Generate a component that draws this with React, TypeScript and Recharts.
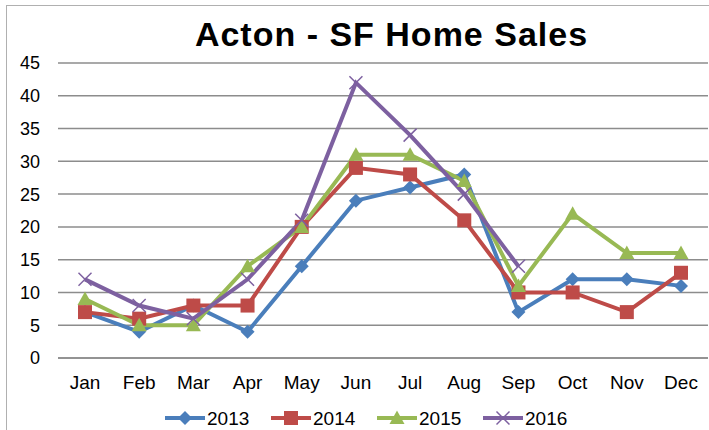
import React from "react";
import {
  LineChart,
  Line,
  XAxis,
  YAxis,
  CartesianGrid,
  Legend,
} from "recharts";

const months = ["Jan", "Feb", "Mar", "Apr", "May", "Jun", "Jul", "Aug", "Sep", "Oct", "Nov", "Dec"];
const sales2013 = [7, 4, 8, 4, 14, 24, 26, 28, 7, 12, 12, 11];
const sales2014 = [7, 6, 8, 8, 20, 29, 28, 21, 10, 10, 7, 13];
const sales2015 = [9, 5, 5, 14, 20, 31, 31, 27, 11, 22, 16, 16];
const sales2016 = [12, 8, 6, 12, 21, 42, 34, 25, 14, null, null, null];
const yTicks = [0, 5, 10, 15, 20, 25, 30, 35, 40, 45];

const data = months.map((m, i) => ({
  month: m,
  y2013: sales2013[i],
  y2014: sales2014[i],
  y2015: sales2015[i],
  y2016: sales2016[i],
}));

type Kind = "diamond" | "square" | "triangle" | "cross";

const font = "Liberation Sans, Arial, sans-serif";

const series: { key: string; name: string; color: string; kind: Kind }[] = [
  { key: "y2013", name: "2013", color: "#4A7EBB", kind: "diamond" },
  { key: "y2014", name: "2014", color: "#BE4B48", kind: "square" },
  { key: "y2015", name: "2015", color: "#98B954", kind: "triangle" },
  { key: "y2016", name: "2016", color: "#7D60A0", kind: "cross" },
];

function Marker({ kind, cx, cy, color }: { kind: Kind; cx: number; cy: number; color: string }) {
  if (cx == null || cy == null || isNaN(cx) || isNaN(cy)) return null;
  if (kind === "diamond") {
    const r = 7;
    return <polygon points={`${cx},${cy - r} ${cx + r},${cy} ${cx},${cy + r} ${cx - r},${cy}`} fill={color} />;
  }
  if (kind === "square") {
    const r = 7;
    return <rect x={cx - r} y={cy - r} width={r * 2} height={r * 2} fill={color} />;
  }
  if (kind === "triangle") {
    const r = 7.5;
    return <polygon points={`${cx},${cy - r} ${cx + r},${cy + r * 0.8} ${cx - r},${cy + r * 0.8}`} fill={color} />;
  }
  const r = 6.5;
  return (
    <g stroke={color} strokeWidth={1.5}>
      <line x1={cx - r} y1={cy - r} x2={cx + r} y2={cy + r} />
      <line x1={cx - r} y1={cy + r} x2={cx + r} y2={cy - r} />
    </g>
  );
}

function LegendContent() {
  return (
    <svg width={709} height={32} style={{ display: "block", overflow: "visible" }}>
      {series.map((s, i) => {
        const x0 = 165 + i * 106;
        return (
          <g key={s.key}>
            <line x1={x0} y1={20} x2={x0 + 40} y2={20} stroke={s.color} strokeWidth={4} />
            <Marker kind={s.kind} cx={x0 + 20} cy={20} color={s.color} />
            <text x={x0 + 42} y={27} fontSize={19} fontFamily={font} fill="#000">
              {s.name}
            </text>
          </g>
        );
      })}
    </svg>
  );
}

export default function App() {
  return (
    <div style={{ position: "absolute", left: 0, top: 0, width: 709, height: 430, background: "#fff", overflow: "hidden" }}>
      <div
        style={{
          position: "absolute",
          left: 6,
          top: 5,
          width: 709,
          height: 430,
          borderLeft: "1.5px solid #b0b0b0",
          borderTop: "1.5px solid #b0b0b0",
        }}
      />
      <div
        style={{
          position: "absolute",
          left: 0,
          top: 15,
          width: 783,
          textAlign: "center",
          fontFamily: font,
          fontWeight: "bold",
          fontSize: 34,
          letterSpacing: 1,
          color: "#000",
        }}
      >
        Acton - SF Home Sales
      </div>
      <LineChart
        width={709}
        height={430}
        data={data}
        margin={{ top: 63, right: 1, left: 0, bottom: 6 }}
        style={{ position: "absolute", left: 0, top: 0 }}
      >
        <CartesianGrid horizontal vertical={false} stroke="#8c8c8c" strokeWidth={1.5} />
        <XAxis
          dataKey="month"
          axisLine={{ stroke: "#8c8c8c", strokeWidth: 1.5 }}
          tickLine={false}
          tick={{ fill: "#000", fontSize: 19, fontFamily: font }}
          tickMargin={12}
          height={40}
          padding={{ left: 27, right: 27 }}
          interval={0}
        />
        <YAxis
          domain={[0, 45]}
          ticks={yTicks}
          axisLine={false}
          tickLine={false}
          tick={{ fill: "#000", fontSize: 18, fontFamily: font }}
          tickMargin={12}
          width={58}
          interval={0}
        />
        <Legend verticalAlign="bottom" height={26} content={() => <LegendContent />} />
        {series.map((s) => (
          <Line
            key={s.key}
            dataKey={s.key}
            name={s.name}
            stroke={s.color}
            strokeWidth={4}
            isAnimationActive={false}
            dot={(p: any) => <Marker key={`${s.key}-${p.index}`} kind={s.kind} cx={p.cx} cy={p.cy} color={s.color} />}
            activeDot={false}
          />
        ))}
      </LineChart>
    </div>
  );
}
